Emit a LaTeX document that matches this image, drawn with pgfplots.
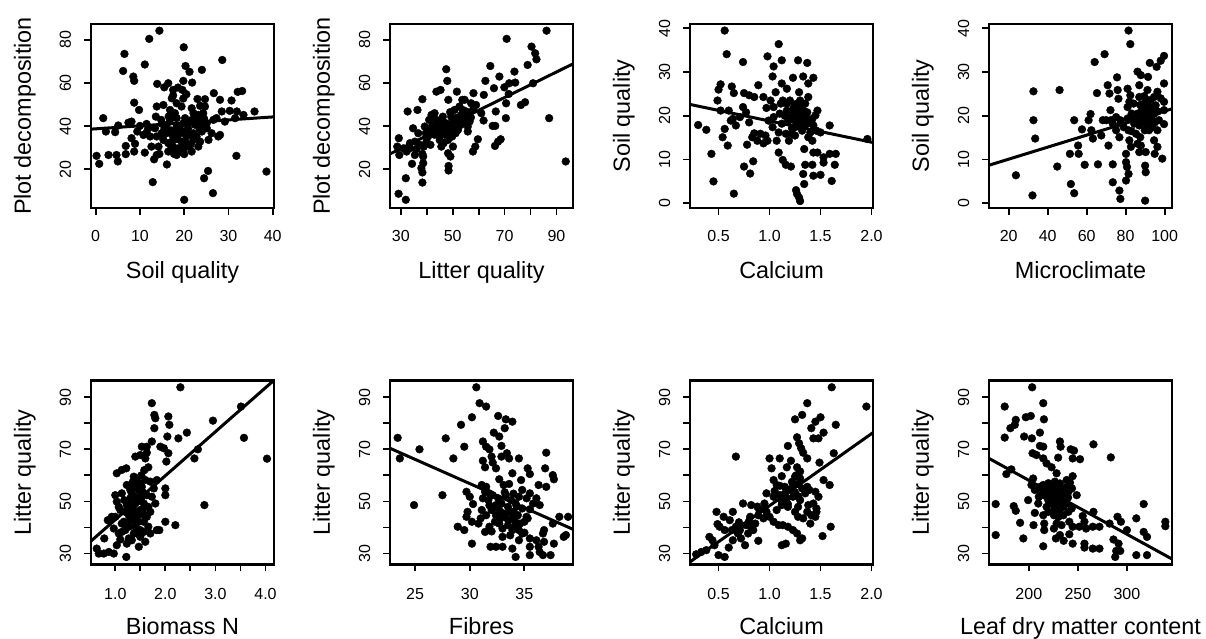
\documentclass[border=0pt]{standalone}
\usepackage{fontspec}
\setmainfont{Liberation Sans}
\usepackage{pgfplots}
\usepackage{pgfplotstable}
\pgfplotsset{compat=1.18}

% Soil quality vs plot decomposition
\pgfplotstableread{
x y
14.4 84.3
12.1 80.5
19.9 76.6
6.5 73.5
28.6 70.7
6.2 65.6
11.1 68.6
20.3 67.9
21.2 65.2
24.0 66.1
8.5 63.0
8.7 61.0
13.9 59.6
15.5 58.0
16.4 59.9
18.6 57.9
19.8 61.0
21.8 60.2
19.6 56.8
17.5 54.2
26.7 55.3
32.1 55.9
33.1 56.3
8.7 50.9
9.8 47.5
30.7 51.9
23.0 52.6
24.7 52.5
19.8 52.8
1.7 43.7
2.3 37.5
4.4 37.2
28.1 52.2
28.5 46.8
30.3 47.1
31.9 46.8
35.9 46.8
33.4 45.2
0.2 26.2
0.8 22.5
2.9 26.6
4.7 26.6
5.0 23.6
6.8 27.0
8.7 28.2
8.9 31.8
6.8 30.8
8.1 34.4
11.1 27.7
12.9 14.0
13.2 24.6
14.4 27.1
16.1 22.2
17.7 27.1
31.8 26.2
25.4 19.2
24.5 15.8
26.5 8.9
20.0 5.8
38.6 18.9
8.1 42.1
10.0 40.1
9.4 37.5
11.5 41.0
11.5 37.0
13.6 44.4
13.4 39.0
14.8 42.9
15.3 49.8
16.8 47.5
17.9 46.0
19.4 49.1
22.1 46.0
23.2 45.2
24.3 46.0
25.1 41.3
26.6 42.9
24.0 37.5
26.2 36.7
27.7 35.2
28.1 35.9
25.5 33.6
23.2 30.5
20.9 30.5
19.1 28.2
17.5 30.5
16.4 32.1
15.3 33.6
14.2 30.5
13.8 35.2
16.0 36.7
17.5 35.2
19.1 36.7
20.5 35.2
22.1 36.7
18.3 39.8
19.8 41.3
20.9 39.0
22.5 40.6
23.6 42.1
16.0 40.6
16.8 42.9
18.3 43.7
20.2 43.7
21.7 42.9
25.1 39.0
17.5 33.6
19.4 32.8
20.5 32.1
22.1 33.6
18.3 26.6
19.8 28.2
12.3 35.2
12.6 30.5
10.8 35.9
23.6 32.8
16.4 28.2
13.8 26.6
17.2 52.9
18.3 50.6
21.7 48.3
24.7 49.1
23.6 49.4
27.3 43.7
29.2 42.1
31.5 43.7
17.5 56.8
20.5 54.8
13.8 49.1
11.9 39.0
7.4 41.6
5.1 40.3
14.9 36.7
22.8 35.2
24.3 39.8
18.7 29.7
21.7 28.2
19.8 32.8
17.0 38.0
18.0 37.0
19.0 38.5
20.0 37.5
21.0 36.0
18.5 34.0
17.0 31.0
19.5 30.0
21.5 31.5
16.5 44.5
15.0 41.0
22.5 44.0
24.5 43.5
21.0 41.5
17.8 28.5
20.0 27.0
23.5 38.5
15.5 38.5
}\soilpd

% Litter quality vs plot decomposition
\pgfplotstableread{
x y
86.2 84.3
70.8 80.5
80.4 76.9
81.8 73.8
82.3 71.0
64.5 67.9
47.5 66.4
47.9 61.0
78.9 68.4
73.8 65.3
68.0 63.0
62.6 61.0
71.8 59.9
74.1 60.2
81.0 59.9
65.9 57.6
69.9 58.0
51.6 56.0
43.7 56.0
45.3 56.8
62.0 54.5
58.0 55.3
71.6 54.9
76.3 49.8
77.9 51.1
70.6 50.6
38.3 52.5
36.4 47.5
32.6 46.8
48.3 52.2
61.0 46.0
61.9 42.6
66.6 46.8
70.5 43.7
65.4 40.1
66.4 40.1
67.5 32.8
68.5 33.9
66.3 30.8
87.2 43.7
93.6 23.6
59.7 33.9
58.7 30.5
57.8 28.2
29.2 34.4
28.6 30.5
29.4 26.6
32.2 28.2
33.5 29.7
36.0 29.3
35.4 26.6
31.9 15.8
29.1 8.6
31.9 5.8
34.3 22.5
37.9 20.5
38.3 18.5
38.3 13.8
38.6 25.9
38.6 22.8
38.3 27.1
48.2 27.4
49.1 25.9
48.4 21.5
48.4 19.4
34.7 39.0
35.4 32.8
36.7 36.7
39.2 39.8
40.5 35.2
40.9 42.9
41.4 31.3
43.0 46.0
43.7 42.9
44.3 39.8
45.0 35.2
45.6 30.5
46.2 44.4
46.5 37.5
47.5 41.3
48.2 33.6
48.8 37.5
49.4 44.4
50.1 40.6
50.7 47.5
51.4 43.7
52.0 38.2
52.6 49.1
53.3 45.2
53.9 41.3
54.6 52.2
55.2 46.8
55.8 37.5
56.5 42.1
57.1 50.6
57.8 47.5
39.9 32.8
42.2 37.5
42.7 40.6
45.6 42.1
47.3 35.9
49.8 35.2
51.1 36.7
52.4 42.1
53.9 47.5
55.2 44.4
55.8 39.8
41.8 45.2
44.3 37.5
39.6 36.7
46.5 32.1
50.1 30.5
33.5 32.1
31.0 29.7
37.3 31.3
38.8 30.5
53.7 52.2
59.0 49.8
42.0 40.0
44.0 41.5
46.0 40.0
48.0 39.5
50.0 42.0
52.0 44.0
54.0 43.0
51.0 39.0
47.0 38.5
43.0 36.0
45.0 33.5
53.0 40.5
56.0 45.5
49.0 46.5
41.0 38.5
57.0 44.0
}\litterpd

% Calcium vs soil quality
\pgfplotstableread{
x y
0.56 39.5
1.09 36.4
0.58 34.1
0.98 33.6
1.04 31.3
0.74 32.3
1.12 32.7
1.28 32.7
1.37 32.1
1.33 29.0
1.43 28.7
1.23 28.7
1.03 29.0
0.89 27.0
0.52 27.2
0.50 26.0
0.63 26.7
0.65 25.2
0.75 25.2
0.80 24.7
0.85 24.3
0.94 24.3
1.06 25.4
1.17 26.2
1.12 27.4
1.29 25.4
1.38 27.4
1.38 24.3
0.49 23.5
0.52 21.2
0.74 22.0
0.97 21.8
1.01 23.5
0.30 17.9
0.38 16.8
0.43 11.3
0.45 5.0
0.65 2.2
0.59 13.2
0.54 15.1
0.56 17.0
0.62 18.9
0.67 17.8
0.71 19.7
0.77 20.8
0.80 18.5
0.78 13.4
0.75 8.4
0.81 6.8
0.84 9.6
0.83 15.1
0.88 14.3
0.94 13.7
0.96 15.5
0.99 18.9
1.03 17.4
1.04 19.7
1.07 14.3
1.09 11.6
1.13 9.9
1.16 8.8
1.21 8.4
1.09 16.2
1.12 18.2
1.16 15.9
1.19 14.3
1.20 19.7
1.24 22.0
1.25 17.4
1.27 20.1
1.29 18.5
1.30 21.2
1.32 16.6
1.33 19.7
1.35 22.8
1.37 18.2
1.22 15.9
1.17 21.2
1.13 23.5
1.26 3.0
1.29 1.3
1.30 0.5
1.27 2.1
1.34 12.4
1.35 8.8
1.33 6.7
1.34 4.4
1.42 8.8
1.43 6.3
1.43 11.6
1.47 11.6
1.50 6.5
1.53 9.3
1.53 10.5
1.61 5.1
1.59 11.3
1.65 11.3
1.64 8.8
1.59 17.8
1.47 21.2
1.45 20.1
1.43 17.8
1.46 16.6
1.50 16.2
1.40 16.2
1.42 14.3
1.38 15.1
1.96 14.7
0.91 15.9
0.85 16.0
0.98 14.3
1.04 22.0
1.11 22.8
1.20 23.5
1.17 22.8
1.30 23.5
1.27 22.8
1.32 22.0
1.29 21.6
1.24 19.0
1.32 19.0
1.37 20.8
1.42 19.3
1.25 15.5
0.60 21.2
0.64 19.3
1.26 20.5
1.28 19.5
1.31 20.3
1.27 18.6
1.30 17.6
1.23 21.2
1.34 21.0
1.36 19.5
1.22 17.2
1.18 18.7
1.33 17.5
1.25 22.5
1.15 20.0
1.10 20.5
1.40 18.5
}\casoil

% Microclimate vs soil quality
\pgfplotstableread{
x y
81.5 39.5
82.4 36.4
69.2 34.1
64.1 32.3
32.7 25.6
46.1 25.9
32.7 19.0
33.6 14.8
23.7 6.4
32.2 1.8
44.9 8.4
51.9 4.4
53.6 2.3
51.4 11.3
55.9 11.3
55.6 13.2
59.0 8.8
53.6 19.0
57.6 16.9
61.0 19.0
62.0 20.4
62.4 16.7
63.2 14.8
65.8 8.9
65.3 25.2
67.5 15.5
70.8 27.0
71.7 25.1
70.0 19.0
72.2 21.3
73.4 18.2
71.2 13.2
73.4 8.9
73.4 4.8
75.6 28.8
75.9 25.9
76.3 23.9
75.1 16.7
76.8 15.1
77.6 18.4
76.8 2.9
77.3 1.0
80.2 11.3
80.2 9.4
80.7 8.3
80.2 5.2
81.5 6.7
81.0 22.0
81.0 19.4
81.4 16.7
81.9 14.4
82.4 24.7
83.1 20.5
84.1 22.8
84.4 18.2
85.3 15.9
86.1 20.5
87.0 24.3
87.0 27.0
87.8 29.3
88.6 22.0
89.2 19.0
89.8 16.7
90.3 21.3
90.3 11.7
90.0 8.6
90.3 7.1
90.0 0.6
91.2 25.9
91.5 28.9
92.0 19.7
92.9 23.6
92.4 32.1
93.7 17.4
94.6 14.4
94.9 11.3
95.4 22.4
95.9 31.2
96.3 25.5
97.1 19.0
98.0 32.6
98.8 10.2
99.7 33.7
99.7 27.4
99.7 23.2
99.7 18.1
99.7 21.3
87.5 15.1
86.1 13.6
82.7 12.9
84.4 18.9
87.8 20.1
89.5 22.8
91.2 23.6
92.9 21.3
93.7 19.0
94.6 20.5
96.3 16.7
92.0 16.7
87.0 17.8
85.3 19.7
88.6 19.0
90.3 18.2
92.0 22.0
77.3 19.0
79.0 17.4
75.1 19.7
72.5 19.0
68.3 19.0
81.0 26.2
81.9 23.2
87.8 13.2
87.0 11.7
96.3 12.9
86.1 30.1
94.6 24.3
88.0 21.0
89.0 20.5
90.5 19.5
91.5 20.8
93.0 20.0
94.0 21.8
86.5 18.5
87.5 22.5
89.5 24.5
92.0 18.0
95.0 18.5
96.5 21.0
84.0 20.0
98.0 24.0
83.0 16.5
}\mcsoil

% Biomass N vs litter quality
\pgfplotstableread{
x y
2.30 93.8
1.73 87.7
3.51 86.4
1.78 83.2
2.06 82.6
1.80 81.9
2.08 79.4
1.78 78.1
2.95 81.0
2.43 76.4
2.26 74.2
2.04 74.9
3.57 74.4
1.73 73.0
1.90 71.0
1.97 70.4
2.06 68.5
2.65 70.0
2.58 66.5
4.03 66.4
2.02 65.3
1.40 67.2
1.50 67.8
1.53 71.0
1.63 71.0
1.63 68.7
1.60 66.5
1.66 63.1
1.03 60.8
1.13 62.1
1.22 62.7
2.78 48.6
2.00 55.0
2.00 52.4
2.00 42.2
1.88 39.0
1.83 39.0
2.20 40.9
1.83 58.2
1.77 55.0
1.73 51.8
1.80 49.2
0.85 42.8
0.78 35.8
0.63 31.9
0.67 30.0
0.77 30.0
0.87 30.6
0.97 30.0
1.22 28.7
1.03 33.2
1.10 35.4
1.23 33.8
1.33 35.1
1.47 32.6
1.60 34.5
0.97 39.6
1.07 37.7
1.00 44.1
1.10 46.7
1.17 42.2
1.03 49.9
1.00 52.4
1.13 53.1
1.23 56.3
1.30 54.4
1.27 50.5
1.33 47.9
1.37 44.7
1.40 40.3
1.43 37.7
1.47 42.2
1.50 46.7
1.53 51.8
1.53 55.6
1.43 58.8
1.37 59.5
1.30 51.2
1.40 49.2
1.47 54.4
1.57 49.2
1.63 44.1
1.66 47.9
1.70 57.6
1.66 40.3
1.57 38.3
1.50 36.4
1.37 37.7
1.27 40.3
1.20 39.0
1.13 41.5
1.20 46.0
1.27 44.7
1.33 42.8
1.43 44.1
1.57 42.2
1.33 53.1
1.40 51.8
1.37 55.6
1.50 56.9
1.60 58.2
1.63 52.4
1.70 46.0
1.50 39.0
1.07 47.9
0.93 44.1
1.50 51.8
1.23 48.6
1.13 38.3
1.27 35.8
1.70 37.7
1.35 48.0
1.42 46.0
1.45 50.0
1.38 43.0
1.30 45.5
1.25 42.0
1.48 45.0
1.55 53.5
1.45 57.0
1.52 60.0
1.58 62.0
1.18 50.5
1.35 57.5
1.55 47.0
1.60 44.5
}\bnlitter

% Fibres vs litter quality
\pgfplotstableread{
x y
30.6 93.8
30.9 87.7
31.5 86.4
30.2 82.3
32.6 82.8
33.3 81.5
33.9 80.6
29.2 79.4
33.2 78.1
32.2 76.4
32.7 74.9
23.4 74.4
27.8 74.2
31.2 73.0
29.5 71.0
31.5 71.0
31.8 70.0
32.9 71.3
25.4 70.0
23.6 66.5
28.5 66.5
32.0 67.2
32.9 67.2
33.4 68.5
33.6 66.5
34.5 66.5
37.0 68.7
31.2 65.6
32.1 64.9
31.4 63.1
32.4 62.7
35.3 62.7
36.9 62.7
33.9 60.8
35.5 60.5
37.6 60.1
37.7 58.5
32.7 58.5
33.1 56.3
33.6 56.7
34.7 58.2
36.3 56.3
37.0 55.6
31.1 56.3
31.5 55.6
31.4 53.7
31.8 53.1
29.7 53.7
30.0 51.8
30.3 49.0
27.5 52.4
24.9 48.6
31.2 51.2
31.7 50.5
32.1 52.4
32.6 51.2
32.9 49.2
33.3 52.4
33.8 50.5
34.2 49.2
34.5 51.8
34.8 54.4
35.2 51.2
35.5 53.1
35.8 49.2
36.1 51.2
36.4 48.6
31.1 46.7
31.5 44.7
32.0 46.7
32.4 44.7
32.7 46.7
33.2 44.1
33.6 46.0
34.1 42.8
34.4 44.7
34.8 47.3
35.2 44.1
29.7 44.1
29.8 46.0
30.2 42.2
30.8 41.5
28.9 40.3
29.5 39.0
31.4 38.3
31.8 40.3
32.3 42.2
32.7 41.5
33.0 39.6
33.5 40.9
33.9 39.0
34.2 40.9
34.5 39.0
35.0 42.2
35.3 43.5
34.8 37.7
30.2 33.8
31.9 32.6
32.4 32.6
33.0 32.6
33.0 36.4
33.9 31.9
34.2 28.7
34.5 35.1
35.5 35.8
35.5 32.6
35.5 29.4
36.1 35.1
36.3 32.6
36.4 30.6
36.7 29.4
36.8 39.0
36.7 37.7
36.8 34.5
37.4 29.4
37.7 33.8
37.6 41.5
38.2 44.1
39.0 44.1
38.6 36.4
38.8 37.1
33.9 43.5
33.5 47.9
32.4 48.6
32.5 48.0
33.0 45.5
33.5 43.0
34.0 46.0
34.6 41.5
32.8 43.5
31.8 48.5
33.2 53.5
34.0 53.0
35.5 47.0
35.0 38.0
33.7 37.0
31.0 43.5
32.0 38.5
34.3 48.0
}\fibrelitter

% Calcium vs litter quality
\pgfplotstableread{
x y
1.61 93.8
1.95 86.4
1.37 87.7
1.32 83.2
1.25 81.5
1.50 82.3
1.45 80.6
1.65 79.4
1.41 78.1
1.53 76.4
1.27 74.6
1.43 74.2
1.48 74.2
1.29 72.3
1.18 71.3
1.31 70.4
1.33 68.7
0.67 67.2
1.00 66.5
1.10 66.5
1.37 66.5
1.63 68.5
1.21 65.6
1.49 64.9
1.02 62.7
1.17 63.1
1.27 63.1
1.12 59.7
1.04 58.2
1.25 59.5
1.30 58.8
1.53 58.2
1.59 56.3
1.07 56.3
1.15 55.6
1.22 55.0
1.28 56.7
1.37 55.6
1.35 53.1
1.39 54.4
1.45 53.7
1.48 51.8
0.97 53.1
1.04 51.8
1.10 52.4
1.17 51.2
1.23 51.8
1.30 50.5
1.38 48.6
1.43 49.2
1.46 46.0
1.45 44.1
1.40 41.5
1.60 40.3
1.52 36.7
1.30 35.1
1.32 35.8
1.16 33.8
1.12 33.2
0.89 34.9
0.74 49.2
0.64 46.0
0.48 46.0
0.61 42.8
0.55 44.1
0.49 41.3
0.51 40.3
0.56 39.0
0.63 39.0
0.64 35.1
0.60 32.3
0.50 29.4
0.56 28.7
0.41 36.4
0.44 35.1
0.38 31.3
0.28 29.7
0.33 30.6
0.46 33.2
0.71 39.0
0.72 35.8
0.76 33.2
0.77 40.9
0.81 44.1
0.82 48.6
0.84 39.0
0.86 41.5
0.89 44.7
0.90 46.7
0.94 43.5
0.95 49.2
0.97 46.0
1.00 44.1
1.04 42.2
1.09 40.9
1.13 40.9
1.18 40.3
1.23 39.0
1.27 37.7
1.07 46.7
1.12 48.6
1.18 47.9
1.25 46.0
1.28 44.1
1.33 43.5
1.37 46.0
1.41 44.7
1.46 47.3
1.28 47.9
0.82 40.3
0.79 37.7
0.67 40.3
0.69 37.7
1.05 54.0
1.10 56.0
1.15 53.0
1.20 54.5
1.25 53.5
1.28 52.0
1.32 55.0
1.22 57.5
1.12 50.0
1.18 49.0
0.95 47.0
0.88 48.0
1.26 60.0
1.30 61.5
0.70 42.0
0.80 42.5
}\calitter

% Leaf dry matter content vs litter quality
\pgfplotstableread{
x y
203.4 93.8
175.4 86.4
214.7 87.7
215.4 81.5
196.9 82.3
202.0 82.8
186.7 81.3
185.7 79.4
181.2 78.1
175.4 74.5
195.2 74.9
203.1 74.2
211.3 76.4
211.3 71.3
214.7 71.0
231.7 73.0
232.4 71.0
242.7 70.0
246.1 69.5
265.9 71.9
203.8 68.5
207.8 67.8
229.9 66.8
244.7 66.5
252.2 66.2
283.6 66.9
214.7 66.5
218.1 64.6
223.2 63.1
177.1 60.5
182.2 62.3
204.4 58.8
228.3 60.8
244.7 59.7
238.6 58.2
202.7 56.3
206.1 54.4
211.3 55.6
214.7 56.3
218.1 54.4
221.5 55.6
224.9 53.7
228.3 54.9
231.7 52.9
235.2 54.4
238.6 55.6
240.3 53.7
223.2 51.8
228.3 51.2
219.8 50.5
233.4 51.2
248.8 52.4
238.6 49.2
209.6 49.2
199.3 50.5
166.2 49.0
184.6 48.2
186.7 46.4
206.1 45.6
214.7 44.7
219.8 46.0
225.6 44.7
231.1 46.7
235.2 44.7
240.3 46.0
243.7 47.3
254.9 44.4
265.9 46.0
290.4 44.1
293.9 42.2
309.6 43.5
317.1 49.0
339.2 42.2
339.2 40.5
191.1 41.8
204.8 40.9
215.7 41.5
215.7 39.0
225.6 39.6
228.3 41.5
233.4 40.9
241.3 42.2
244.7 40.3
251.5 40.3
256.7 42.2
258.4 39.6
265.2 40.3
272.0 40.3
282.3 41.5
300.0 39.0
317.1 38.3
320.5 36.4
166.2 37.1
194.4 35.8
214.7 32.8
227.6 35.8
231.7 37.1
235.5 34.9
241.3 37.4
244.7 33.8
256.7 33.8
256.7 32.3
265.2 31.9
272.0 31.9
286.3 35.4
291.5 33.8
289.1 31.0
293.2 31.0
288.1 28.7
309.6 29.4
320.5 29.4
221.5 49.2
228.3 49.2
235.2 47.9
218.1 47.9
210.2 51.8
215.4 52.4
231.7 56.9
226.6 57.6
242.0 57.2
222.0 53.0
226.0 52.0
230.0 54.0
234.0 53.0
228.0 56.0
220.0 57.0
236.0 50.5
224.0 49.5
232.0 50.0
240.0 51.5
218.0 52.0
226.0 47.0
244.0 55.0
212.0 53.5
230.0 44.0
}\ldmclitter

\pgfplotsset{
  panel/.style={
    scale only axis, width=183pt, height=184pt, anchor=south west,
    axis line style={line width=2.4pt},
    major tick length=7pt, tick align=outside,
    major tick style={line width=1.8pt, black},
    xtick pos=bottom, ytick pos=left,
    /pgf/number format/assume math mode=true,
    ticklabel style={font=\fontsize{16}{16}\selectfont, inner sep=0pt, outer sep=0pt},
    xticklabel style={anchor=base, yshift=-27pt},
    yticklabel style={xshift=-13pt, rotate=90, anchor=base},
    every axis x label/.style={at={(axis description cs:0.5,-0.383)}, anchor=base,
      font=\fontsize{23.4}{24}\selectfont},
    every axis y label/.style={at={(axis description cs:-0.328,0.5)}, rotate=90, anchor=base,
      font=\fontsize{23.4}{24}\selectfont},
    clip=true,
  },
  lower/.style={xticklabel style={yshift=-1.5pt}},
  pts/.style={only marks, mark=*, mark size=3.9pt, black, mark options={fill=black, draw=black}},
  fit/.style={no marks, black, line width=3pt},
}

\begin{document}
\begin{tikzpicture}[x=1pt, y=1pt]
\path[use as bounding box] (0,0) rectangle (1206,639);

% ---- top row ----
\begin{axis}[panel, at={(91pt,431pt)},
  xmin=-1.06, xmax=40.3, ymin=2.0, ymax=87.4,
  xtick={0,10,20,30,40}, xticklabels={0,10,20,30,40},
  ytick={20,40,60,80}, yticklabels={20,40,60,80},
  xlabel={Soil quality}, ylabel={Plot decomposition}]
\addplot[pts] table {\soilpd};
\addplot[fit] coordinates {(-1.06,38.6) (40.3,44.3)};
\end{axis}

\begin{axis}[panel, at={(390pt,431pt)},
  xmin=25.8, xmax=96.4, ymin=2.0, ymax=87.4,
  xtick={30,40,50,60,70,80,90}, xticklabels={30,,50,,70,,90},
  ytick={20,40,60,80}, yticklabels={20,40,60,80},
  xlabel={Litter quality}, ylabel={Plot decomposition}]
\addplot[pts] table {\litterpd};
\addplot[fit] coordinates {(25.8,27.1) (96.4,68.9)};
\end{axis}

\begin{axis}[panel, at={(690pt,431pt)},
  xmin=0.22, xmax=2.015, ymin=-1.08, ymax=41.0,
  xtick={0.5,1.0,1.5,2.0}, xticklabels={0.5,1.0,1.5,2.0},
  ytick={0,10,20,30,40}, yticklabels={0,10,20,30,40},
  xlabel={Calcium}, ylabel={Soil quality}]
\addplot[pts] table {\casoil};
\addplot[fit] coordinates {(0.22,22.6) (2.015,13.9)};
\end{axis}

\begin{axis}[panel, at={(989pt,431pt)},
  xmin=9.9, xmax=103.8, ymin=-1.08, ymax=41.0,
  xtick={20,40,60,80,100}, xticklabels={20,40,60,80,100},
  ytick={0,10,20,30,40}, yticklabels={0,10,20,30,40},
  xlabel={Microclimate}, ylabel={Soil quality}]
\addplot[pts] table {\mcsoil};
\addplot[fit] coordinates {(9.9,8.7) (103.8,21.6)};
\end{axis}

% ---- bottom row ----
\begin{axis}[panel, lower, at={(91pt,74.5pt)},
  xmin=0.515, xmax=4.17, ymin=25.8, ymax=96.4,
  xtick={1,1.5,2,2.5,3,3.5,4}, xticklabels={1.0,,2.0,,3.0,,4.0},
  ytick={30,40,50,60,70,80,90}, yticklabels={30,,50,,70,,90},
  xlabel={Biomass N}, ylabel={Litter quality}]
\addplot[pts] table {\bnlitter};
\addplot[fit] coordinates {(0.515,34.8) (4.17,96.5)};
\end{axis}

\begin{axis}[panel, lower, at={(390pt,74.5pt)},
  xmin=22.7, xmax=39.45, ymin=25.8, ymax=96.4,
  xtick={25,30,35}, xticklabels={25,30,35},
  ytick={30,40,50,60,70,80,90}, yticklabels={30,,50,,70,,90},
  xlabel={Fibres}, ylabel={Litter quality}]
\addplot[pts] table {\fibrelitter};
\addplot[fit] coordinates {(22.7,70.4) (39.45,39.3)};
\end{axis}

\begin{axis}[panel, lower, at={(690pt,74.5pt)},
  xmin=0.22, xmax=2.015, ymin=25.8, ymax=96.4,
  xtick={0.5,1.0,1.5,2.0}, xticklabels={0.5,1.0,1.5,2.0},
  ytick={30,40,50,60,70,80,90}, yticklabels={30,,50,,70,,90},
  xlabel={Calcium}, ylabel={Litter quality}]
\addplot[pts] table {\calitter};
\addplot[fit] coordinates {(0.22,26.8) (2.015,76.4)};
\end{axis}

\begin{axis}[panel, lower, at={(989pt,74.5pt)},
  xmin=159.4, xmax=346, ymin=25.8, ymax=96.4,
  xtick={200,250,300}, xticklabels={200,250,300},
  ytick={30,40,50,60,70,80,90}, yticklabels={30,,50,,70,,90},
  xlabel={Leaf dry matter content}, ylabel={Litter quality}]
\addplot[pts] table {\ldmclitter};
\addplot[fit] coordinates {(159.4,66.5) (346,27.9)};
\end{axis}
\end{tikzpicture}
\end{document}
